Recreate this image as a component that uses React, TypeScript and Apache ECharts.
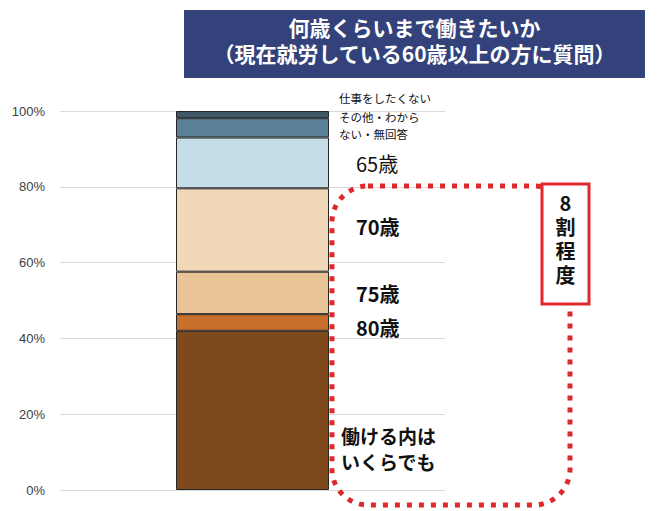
import React, { useEffect, useRef } from 'react';
import * as echarts from 'echarts';

// stacked from the bottom up
const seriesNames = ['働ける内はいくらでも', '80歳', '75歳', '70歳', '65歳', 'その他・わからない・無回答', '仕事をしたくない'];
const seriesValues = [42.0, 4.4, 11.2, 22.0, 13.4, 5.1, 1.9];
const seriesColors = ['#7e4a1c', '#c96f2c', '#e8c497', '#f0d8b8', '#c5dde6', '#5b8099', '#3e5868'];
const labelTexts = ['働ける内は\nいくらでも', '80歳', '75歳', '70歳', '65歳', 'その他・わから\nない・無回答', '仕事をしたくない'];
const yTicks = [0, 20, 40, 60, 80, 100];
const titleLines = ['何歳くらいまで働きたいか', '（現在就労している60歳以上の方に質問）'];
const noteChars = ['8', '割', '程', '度'];

const FONT = '"Noto Sans CJK JP", "Noto Sans", sans-serif';

// label tweaks per series: [distance, dy, size, weight]
const labelStyles: [number, number, number, string][] = [
  [12, 38, 19, 'bold'],
  [27, 5, 20, 'bold'],
  [27, 1, 20, 'bold'],
  [27, -4, 20, 'bold'],
  [27, 1, 20, 'normal'],
  [10, -2, 11.5, 'normal'],
  [10, -17, 11.5, 'normal'],
];

const App: React.FC = () => {
  const chartRef = useRef<HTMLDivElement>(null);

  useEffect(() => {
    const chart = echarts.init(chartRef.current!, null, { renderer: 'svg' });

    const option = {
      animation: false,
      grid: { left: 60, right: 213, top: 111, bottom: 21 },
      xAxis: {
        type: 'category',
        data: [''],
        axisLine: { show: false },
        axisTick: { show: false },
        axisLabel: { show: false },
      },
      yAxis: {
        type: 'value',
        min: yTicks[0],
        max: yTicks[yTicks.length - 1],
        interval: 20,
        axisLine: { show: false },
        axisTick: { show: false },
        axisLabel: {
          formatter: '{value}%',
          color: '#404040',
          fontSize: 13,
          fontFamily: '"Liberation Sans", Arial, sans-serif',
          margin: 15,
        },
        splitLine: { lineStyle: { color: '#d9d9d9', width: 1 } },
      },
      series: seriesNames.map((name, i) => ({
        name,
        type: 'bar',
        stack: 'total',
        barWidth: 153,
        data: [seriesValues[i]],
        itemStyle: { color: seriesColors[i], borderColor: '#262626', borderWidth: 1 },
        label: {
          show: true,
          position: 'right',
          distance: labelStyles[i][0],
          offset: [0, labelStyles[i][1]],
          formatter: labelTexts[i],
          color: '#111',
          fontSize: labelStyles[i][2],
          fontWeight: labelStyles[i][3],
          fontFamily: FONT,
          lineHeight: labelStyles[i][2] > 15 ? 26 : 17,
          align: 'left',
        },
      })),
      graphic: [
        {
          type: 'rect',
          shape: { x: 184, y: 10, width: 461, height: 68 },
          style: { fill: '#33427a' },
          z: 10,
        },
        {
          type: 'text',
          x: 414.5,
          y: 40,
          style: {
            text: titleLines.join('\n'),
            fill: '#fff',
            font: `bold 21px ${FONT}`,
            lineHeight: 26,
            align: 'center',
            verticalAlign: 'middle',
          },
          z: 11,
        },
        {
          type: 'rect',
          shape: { x: 332, y: 186, width: 238, height: 319, r: 36 },
          style: { fill: 'none', stroke: '#df282b', lineWidth: 5, lineDash: [5, 7] },
          z: 10,
        },
        {
          type: 'rect',
          shape: { x: 542, y: 184, width: 47, height: 120 },
          style: { fill: '#fff', stroke: '#df282b', lineWidth: 3 },
          z: 11,
        },
        ...noteChars.map((ch, i) => ({
          type: 'text',
          x: 565.5,
          y: 202 + i * 24,
          style: {
            text: ch,
            fill: '#111',
            font: `bold 20px ${FONT}`,
            align: 'center',
            verticalAlign: 'middle',
          },
          z: 12,
        })),
      ],
    };

    chart.setOption(option);

    const handleResize = () => chart.resize();
    window.addEventListener('resize', handleResize);

    return () => {
      chart.dispose();
      window.removeEventListener('resize', handleResize);
    };
  }, []);

  return (
    <div
      ref={chartRef}
      style={{ position: 'fixed', left: 0, top: 0, width: '658px', height: '511px', background: '#fff' }}
    />
  );
};

export default App;
